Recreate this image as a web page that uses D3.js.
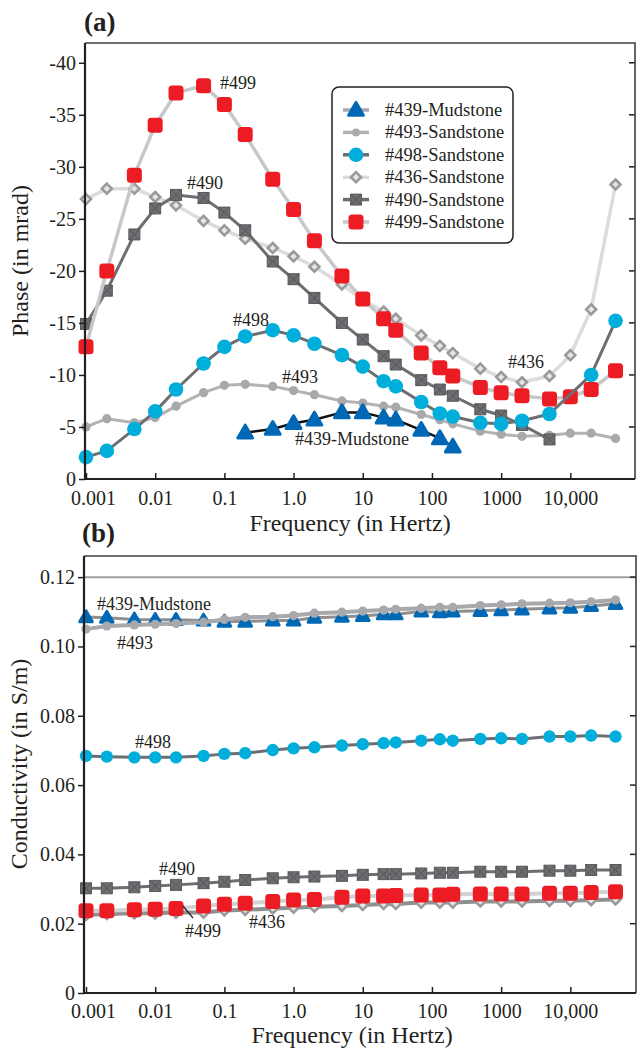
<!DOCTYPE html>
<html>
<head>
<meta charset="utf-8">
<script src="https://cdn.jsdelivr.net/npm/d3@7"></script>
<style>
  body { margin: 0; background: #fff; }
</style>
</head>
<body>
<script>
(function(){

    //frequencies (Hz) shared by both panels
    var freq = [0.001,0.002,0.005,0.01,0.02,0.05,0.1,0.2,0.5,1,2,5,10,20,30,70,130,200,500,1000,2000,5000,10000,20000,45000];
    var freqTicks = [0.001,0.01,0.1,1,10,100,1000,10000];
    var freqTickLabels = ["0.001","0.01","0.1","1.0","10","100","1000","10,000"];

    //panel (a) phase values, mrad (null = not measured)
    var phase439 = [null,null,null,null,null,null,null,-4.45,-4.8,-5.35,-5.7,-6.4,-6.4,-5.9,-5.7,-4.7,-3.9,-3.1,null,null,null,null,null,null,null];
    var phase493 = [-5.0,-5.8,-5.4,-5.9,-7.0,-8.3,-9.0,-9.1,-8.9,-8.5,-8.1,-7.5,-7.3,-7.0,-6.9,-6.2,-5.7,-5.3,-4.6,-4.3,-4.1,-4.2,-4.4,-4.4,-3.9];
    var phase498 = [-2.1,-2.7,-4.8,-6.5,-8.6,-11.1,-12.7,-13.7,-14.3,-13.8,-13.0,-11.9,-10.8,-9.4,-8.9,-7.4,-6.3,-6.0,-5.4,-5.3,-5.6,-6.25,null,-10.0,-15.2];
    var phase436 = [-26.9,-27.9,-27.9,-27.1,-26.3,-24.8,-23.9,-23.1,-22.2,-21.4,-20.4,-18.7,-17.2,-16.1,-15.4,-13.8,-12.8,-12.1,-10.6,-9.8,-9.3,-9.9,-11.9,-16.3,-28.3];
    var phase490 = [-14.9,-18.1,-23.5,-26.0,-27.3,-27.0,-25.6,-23.9,-20.9,-19.2,-17.4,-15.0,-13.4,-11.8,-11.0,-9.5,-8.6,-8.0,-6.7,-6.1,-5.2,-3.8,null,null,null];
    var phase499 = [-12.7,-20.0,-29.2,-34.0,-37.1,-37.8,-36.0,-33.1,-28.8,-25.9,-22.9,-19.5,-17.3,-15.4,-14.3,-12.1,-10.7,-9.9,-8.8,-8.3,-8.0,-7.7,-7.9,-8.6,-10.4];
    var phaseTicks = [0,-5,-10,-15,-20,-25,-30,-35,-40];

    //panel (b) conductivity values, S/m
    var cond439 = [0.1085,0.1083,0.1078,0.1077,0.1077,0.1075,0.1072,0.1072,0.1075,0.1075,0.1083,0.1086,0.1088,0.1093,0.1093,0.1101,0.1099,0.1101,0.1103,0.1105,0.1107,0.1110,0.1112,0.1117,0.1123];
    var cond493 = [0.1050,0.1059,0.1062,0.1064,0.1066,0.1070,0.1078,0.1084,0.1086,0.1089,0.1096,0.1099,0.1102,0.1105,0.1107,0.1110,0.1113,0.1113,0.1118,0.1120,0.1123,0.1125,0.1126,0.1129,0.1134];
    var cond498 = [0.0684,0.0682,0.0680,0.0680,0.0680,0.0684,0.0690,0.0692,0.0701,0.0706,0.0709,0.0714,0.0718,0.0721,0.0723,0.0728,0.0732,0.0728,0.0733,0.0735,0.0733,0.0740,0.0740,0.0743,0.0740];
    var cond436 = [0.0225,0.0228,0.0230,0.0230,0.0232,0.0232,0.0238,0.0240,0.0244,0.0246,0.0249,0.0251,0.0254,0.0257,0.0257,0.0261,0.0261,0.0261,0.0264,0.0264,0.0264,0.0266,0.0266,0.0268,0.0270];
    var cond490 = [0.0302,0.0302,0.0305,0.0309,0.0312,0.0317,0.0321,0.0326,0.0331,0.0334,0.0336,0.0338,0.0341,0.0343,0.0343,0.0345,0.0347,0.0347,0.0350,0.0350,0.0350,0.0353,0.0353,0.0355,0.0355];
    var cond499 = [0.0237,0.0237,0.0240,0.0242,0.0244,0.0251,0.0256,0.0259,0.0264,0.0268,0.0270,0.0276,0.0280,0.0280,0.0281,0.0283,0.0283,0.0285,0.0286,0.0286,0.0286,0.0288,0.0288,0.0290,0.0292];
    var condTicks = [0,0.02,0.04,0.06,0.08,0.10,0.12];

    var sampleNames = ["#439-Mudstone","#493-Sandstone","#498-Sandstone","#436-Sandstone","#490-Sandstone","#499-Sandstone"];

    //look of each sample (marker type, colours)
    var styles = {
        "439": {marker:"triangle", fill:"#0068b5", line:"#111111"},
        "493": {marker:"smallCircle", fill:"#a7a9ac", line:"#b3b3b3"},
        "498": {marker:"circle", fill:"#00aedb", line:"#6d6e71"},
        "436": {marker:"diamond", fill:"#9a9a9a", line:"#dcdcdc"},
        "490": {marker:"bowtie", fill:"#6d6e71", line:"#6d6e71"},
        "499": {marker:"square", fill:"#ed1c24", line:"#c7c8ca"}
    };

    var width = 638, height = 1055;
    var serif = "'Liberation Serif', 'Times New Roman', Times, serif";

    var svg = d3.select("body").append("svg")
        .attr("width", width)
        .attr("height", height)
        .attr("font-family", serif);

    //shared log frequency scale
    var x = d3.scaleLog()
        .domain([0.001, 86000])
        .range([86, 635]);

    //draw one marker at (px,py)
    function drawMarker(g, type, px, py, st, big){
        var k = big === false ? 0.85 : 1;
        if (type == "square"){
            var s = 15 * k;
            g.append("rect").attr("x", px - s/2).attr("y", py - s/2)
                .attr("width", s).attr("height", s).attr("rx", 3.5)
                .attr("fill", st.fill);
        } else if (type == "circle"){
            g.append("circle").attr("cx", px).attr("cy", py).attr("r", 7.3 * k)
                .attr("fill", st.fill);
        } else if (type == "smallCircle"){
            g.append("circle").attr("cx", px).attr("cy", py).attr("r", 4.6 * k)
                .attr("fill", st.fill);
        } else if (type == "triangle"){
            g.append("path")
                .attr("d", d3.symbol().type(d3.symbolTriangle).size(95 * k * k)())
                .attr("transform", "translate(" + px + "," + (py + 1) + ")")
                .attr("fill", st.fill).attr("stroke", st.fill)
                .attr("stroke-width", 3).attr("stroke-linejoin", "round");
        } else if (type == "diamond"){
            g.append("path")
                .attr("d", "M0,-5L5,0L0,5L-5,0Z")
                .attr("transform", "translate(" + px + "," + py + ")")
                .attr("fill", "#e6e6e6").attr("stroke", st.fill).attr("stroke-width", 2.6);
        } else if (type == "bowtie"){
            g.append("path")
                .attr("d", "M-5.5,-5.5L5.5,-5.5L-5.5,5.5L5.5,5.5Z M-5.5,-5.5L-5.5,5.5L5.5,-5.5L5.5,5.5Z")
                .attr("transform", "translate(" + px + "," + py + ")")
                .attr("fill", st.fill).attr("stroke", "#58595b").attr("stroke-width", 1)
                .attr("stroke-linejoin", "round");
        }
    }

    //draw one series (line then markers)
    function drawSeries(g, y, values, st, lineWidth, lineColor, big){
        var pts = [];
        values.forEach(function(v, i){ if (v !== null) pts.push([freq[i], v]); });
        var line = d3.line()
            .x(function(d){ return x(d[0]); })
            .y(function(d){ return y(d[1]); });
        g.append("path").datum(pts)
            .attr("d", line)
            .attr("fill", "none")
            .attr("stroke", lineColor || st.line)
            .attr("stroke-width", lineWidth)
            .attr("stroke-linejoin", "round");
        pts.forEach(function(p){
            drawMarker(g, st.marker, x(p[0]), y(p[1]), st, big);
        });
    }

    //axes and frame for a panel
    function drawFrame(y, top, bottom, left, right, ticks, fmt, padX){
        var ax = svg.append("g")
            .attr("transform", "translate(0," + bottom + ")")
            .call(d3.axisBottom(x).tickValues(freqTicks)
                .tickFormat(function(d, i){ return freqTickLabels[i]; })
                .tickSizeInner(-6).tickSizeOuter(0).tickPadding(padX));
        ax.attr("font-family", serif);
        ax.select(".domain").remove();
        ax.selectAll("line").attr("stroke", "#231f20").attr("stroke-width", 1.5);
        ax.selectAll("text").attr("font-size", 20).attr("fill", "#231f20")
            .attr("dx", function(d){ return d == 0.001 ? 7 : 0; });

        var ay = svg.append("g")
            .attr("transform", "translate(" + left + ",0)")
            .call(d3.axisLeft(y).tickValues(ticks).tickFormat(fmt)
                .tickSizeInner(6).tickSizeOuter(0).tickPadding(3));
        ay.attr("font-family", serif);
        ay.select(".domain").remove();
        ay.selectAll("line").attr("stroke", "#231f20").attr("stroke-width", 1.5);
        ay.selectAll("text").attr("font-size", 20).attr("fill", "#231f20");

        //inward ticks on the right edge
        svg.append("g").selectAll("line")
            .data(ticks.filter(function(t){ return t !== 0; }))
            .enter().append("line")
            .attr("x1", right - 6).attr("x2", right)
            .attr("y1", function(d){ return y(d); })
            .attr("y2", function(d){ return y(d); })
            .attr("stroke", "#231f20").attr("stroke-width", 1.5);

        //box
        svg.append("path")
            .attr("d", "M" + left + "," + top + "H" + right + "V" + bottom)
            .attr("fill", "none").attr("stroke", "#414042").attr("stroke-width", 1.6);
        svg.append("path")
            .attr("d", "M" + left + "," + top + "V" + bottom + "H" + right)
            .attr("fill", "none").attr("stroke", "#231f20").attr("stroke-width", 2.2);
    }

    function addText(txt, tx, ty, size, weight, anchor){
        return svg.append("text").attr("x", tx).attr("y", ty)
            .attr("font-size", size)
            .attr("font-weight", weight || "normal")
            .attr("text-anchor", anchor || "start")
            .attr("fill", "#231f20")
            .text(txt);
    }

    // ---------------- panel (a) ----------------
    var ya = d3.scaleLinear().domain([0, -41.9]).range([479, 43]);
    var ga = svg.append("g");

    drawSeries(ga, ya, phase436, styles["436"], 3.5);
    drawSeries(ga, ya, phase493, styles["493"], 3);
    drawSeries(ga, ya, phase490, styles["490"], 3);
    drawSeries(ga, ya, phase499, styles["499"], 3.5);
    drawSeries(ga, ya, phase498, styles["498"], 3);
    drawSeries(ga, ya, phase439, styles["439"], 2.5);

    drawFrame(ya, 43, 479, 85, 635, phaseTicks,
        function(d){ return d === 0 ? "0" : "-" + Math.abs(d); }, 12);

    addText("(a)", 84, 31, 27, "bold");
    addText("Frequency (in Hertz)", 350, 531, 24, "normal", "middle");
    svg.append("text").attr("transform", "translate(28,261) rotate(-90)")
        .attr("font-size", 24).attr("text-anchor", "middle").attr("fill", "#231f20")
        .text("Phase (in mrad)");

    addText("#499", 220, 89, 18);
    addText("#490", 187, 189, 18);
    addText("#498", 233, 326, 18);
    addText("#493", 282, 383, 18);
    addText("#439-Mudstone", 295, 445, 18);
    addText("#436", 508, 368, 18);

    //legend
    var legend = svg.append("g");
    legend.append("rect")
        .attr("x", 332).attr("y", 87).attr("width", 181).attr("height", 156)
        .attr("rx", 7).attr("fill", "#fff")
        .attr("stroke", "#231f20").attr("stroke-width", 1.5);
    var legendKeys = ["439","493","498","436","490","499"];
    legendKeys.forEach(function(k, i){
        var ly = 110 + i * 22.4;
        var st = styles[k];
        legend.append("line").attr("x1", 343).attr("x2", 369)
            .attr("y1", ly).attr("y2", ly)
            .attr("stroke", k == "439" ? "#a7a9ac" : st.line).attr("stroke-width", 3.5);
        drawMarker(legend, st.marker, 356, ly, st, k == "439" || k == "498" || k == "499" ? true : false);
        legend.append("text").attr("x", 385).attr("y", ly + 6)
            .attr("font-size", 18.5).attr("fill", "#231f20").text(sampleNames[i]);
    });

    // ---------------- panel (b) ----------------
    var yb = d3.scaleLinear().domain([0, 0.1261]).range([993, 556]);
    var gb = svg.append("g");

    //reference line at 0.12
    gb.append("line")
        .attr("x1", 84).attr("x2", 636)
        .attr("y1", yb(0.12)).attr("y2", yb(0.12))
        .attr("stroke", "#a0a0a0").attr("stroke-width", 2);

    drawSeries(gb, yb, cond436, styles["436"], 4, "#8f8f8f", false);
    drawSeries(gb, yb, cond499, styles["499"], 4, "#d1d2d4");
    drawSeries(gb, yb, cond490, styles["490"], 3);
    drawSeries(gb, yb, cond498, styles["498"], 3, "#6d6e71", false);
    drawSeries(gb, yb, cond439, styles["439"], 3, "#8f8f8f", false);
    drawSeries(gb, yb, cond493, styles["493"], 4, "#a7a9ac");

    drawFrame(yb, 556, 993, 84, 636, condTicks,
        function(d){ return d === 0 ? "0" : d3.format(".2f")(d); }, 11);

    addText("(b)", 82, 542, 27, "bold");
    addText("Frequency (in Hertz)", 352, 1043, 24, "normal", "middle");
    svg.append("text").attr("transform", "translate(27,764) rotate(-90)")
        .attr("font-size", 24).attr("text-anchor", "middle").attr("fill", "#231f20")
        .text("Conductivity (in S/m)");

    addText("#439-Mudstone", 97, 610, 18);
    addText("#493", 117, 649, 18);
    addText("#498", 135, 748, 18);
    addText("#490", 159, 875, 18);
    addText("#499", 185, 937, 18);
    addText("#436", 249, 928, 18);
    svg.append("line").attr("x1", 183).attr("y1", 906).attr("x2", 193).attr("y2", 918)
        .attr("stroke", "#231f20").attr("stroke-width", 1.2);

})();
</script>
</body>
</html>
